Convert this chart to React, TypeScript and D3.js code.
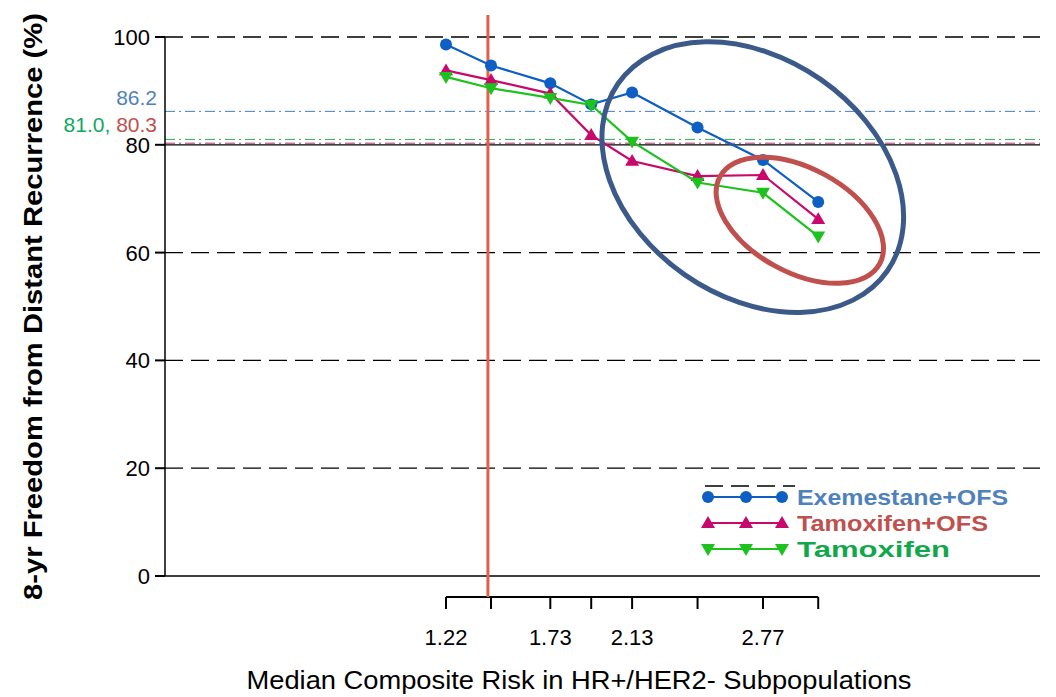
import * as d3 from "d3";

// median composite risk for each HR+/HER2- subpopulation
const risk = [1.22, 1.44, 1.73, 1.93, 2.13, 2.45, 2.77, 3.04];
const riskLabels = [1.22, 1.73, 2.13, 2.77];

// 8-yr freedom from distant recurrence (%)
const exemestaneOfs = [98.6, 94.7, 91.4, 87.5, 89.7, 83.2, 77.2, 69.4];
const tamoxifenOfs = [93.8, 92.0, 89.5, 81.8, 77.0, 74.2, 74.4, 66.2];
const tamoxifen = [92.6, 90.5, 88.7, 87.4, 80.6, 73.0, 71.1, 63.0];

const yTicks = [0, 20, 40, 60, 80, 100];
const refExe = 86.2;
const refTamOfs = 80.3;
const refTam = 81.0;
const cutoffRisk = 1.425;

const W = 1056;
const H = 697;

const BLUE = "#0d5fc4";
const MAGENTA = "#c8086a";
const GREEN = "#1ec21e";

const series = [
  { name: "Exemestane+OFS", values: exemestaneOfs, color: BLUE, marker: "circle", text: "#4f81bd", tl: 211 },
  { name: "Tamoxifen+OFS", values: tamoxifenOfs, color: MAGENTA, marker: "up", text: "#c0504d", tl: 191 },
  { name: "Tamoxifen", values: tamoxifen, color: GREEN, marker: "down", text: "#10a84a", tl: 153 },
];

const Marker = ({ kind, x, y, color }: { kind: string; x: number; y: number; color: string }) => {
  if (kind === "circle") return <circle cx={x} cy={y} r={6} fill={color} />;
  const s = 7;
  const pts =
    kind === "up"
      ? `${x},${y - s} ${x - s},${y + s * 0.7} ${x + s},${y + s * 0.7}`
      : `${x},${y + s} ${x - s},${y - s * 0.7} ${x + s},${y - s * 0.7}`;
  return <polygon points={pts} fill={color} />;
};

export default function App() {
  const x = d3.scaleLinear().domain([1.22, 2.77]).range([446, 763]);
  const y = d3.scaleLinear().domain([0, 100]).range([576, 37]);
  const left = 165;
  const right = 1040;
  const subAxisY = 597;

  const line = d3
    .line<number>()
    .x((_, i) => x(risk[i]))
    .y((d) => y(d));

  // annotation ellipses (center in data units, radii in px)
  const ellipses = [
    { cx: 2.72, cy: 74.0, rx: 164, ry: 119, rot: 34.8, color: "#3b5a8a" },
    { cx: 2.95, cy: 66.0, rx: 91, ry: 52, rot: 28.6, color: "#c0504d" },
  ];

  return (
    <svg
      width={W}
      height={H}
      style={{ position: "absolute", left: 0, top: 0, background: "#fff" }}
      fontFamily="'Liberation Sans', Arial, sans-serif"
    >
      {/* grid */}
      {yTicks.map((t) => (
        <line
          key={t}
          x1={left}
          x2={right}
          y1={y(t)}
          y2={y(t)}
          stroke="#000"
          strokeWidth={1.3}
          strokeDasharray={t === 0 || t === 80 ? undefined : "18,8"}
        />
      ))}

      {/* reference lines */}
      <line x1={left} x2={right} y1={y(refExe)} y2={y(refExe)} stroke="#3f7fc8" strokeWidth={1} strokeDasharray="10,4,2,4" />
      <line x1={left} x2={right} y1={y(refTam)} y2={y(refTam)} stroke="#2cb050" strokeWidth={1} strokeDasharray="10,4,2,4" />
      <line x1={left} x2={right} y1={y(refTamOfs)} y2={y(refTamOfs)} stroke="#a8306a" strokeWidth={1} strokeDasharray="10,4,2,4" />

      {/* y axis */}
      <line x1={left} x2={left} y1={y(100)} y2={y(0)} stroke="#000" strokeWidth={1.5} />
      {yTicks.map((t) => (
        <g key={t}>
          <line x1={left - 10} x2={left} y1={y(t)} y2={y(t)} stroke="#000" strokeWidth={2} />
          <text x={150} y={y(t) + 8} textAnchor="end" fontSize={22}>
            {t}
          </text>
        </g>
      ))}
      <text x={157} y={y(refExe) - 6} textAnchor="end" fontSize={21} fill="#4f81bd">
        {refExe.toFixed(1)}
      </text>
      <text x={157} y={y(refTam) - 7.5} textAnchor="end" fontSize={21}>
        <tspan fill="#10a860">{refTam.toFixed(1)}, </tspan>
        <tspan fill="#c0504d">{refTamOfs.toFixed(1)}</tspan>
      </text>
      <text
        transform={`translate(42,${(y(100) + y(0)) / 2}) rotate(-90)`}
        textAnchor="middle"
        fontSize={26}
        fontWeight="bold"
        textLength={587}
        lengthAdjust="spacingAndGlyphs"
      >
        8-yr Freedom from Distant Recurrence (%)
      </text>

      {/* risk axis */}
      <line x1={x(risk[0])} x2={x(risk[risk.length - 1])} y1={subAxisY} y2={subAxisY} stroke="#000" strokeWidth={2} />
      {risk.map((r) => (
        <line key={r} x1={x(r)} x2={x(r)} y1={subAxisY} y2={subAxisY + 12} stroke="#000" strokeWidth={2} />
      ))}
      {riskLabels.map((r) => (
        <text key={r} x={x(r)} y={645} textAnchor="middle" fontSize={22}>
          {r.toFixed(2)}
        </text>
      ))}
      <text
        x={579}
        y={689}
        textAnchor="middle"
        fontSize={25}
        textLength={665}
        lengthAdjust="spacingAndGlyphs"
      >
        Median Composite Risk in HR+/HER2- Subpopulations
      </text>

      {/* cutoff */}
      <line x1={x(cutoffRisk)} x2={x(cutoffRisk)} y1={15} y2={subAxisY} stroke="#e0604a" strokeWidth={3} />

      {/* series */}
      {series.map((s) => (
        <g key={s.name}>
          <path d={line(s.values) ?? ""} fill="none" stroke={s.color} strokeWidth={2.2} />
          {s.values.map((v, i) => (
            <Marker key={i} kind={s.marker} x={x(risk[i])} y={y(v)} color={s.color} />
          ))}
        </g>
      ))}

      {/* ellipses */}
      {ellipses.map((e, i) => (
        <ellipse
          key={i}
          cx={0}
          cy={0}
          rx={e.rx}
          ry={e.ry}
          transform={`translate(${x(e.cx)},${y(e.cy)}) rotate(${e.rot})`}
          fill="none"
          stroke={e.color}
          strokeWidth={5}
        />
      ))}

      {/* legend */}
      <line x1={705} x2={795} y1={486} y2={486} stroke="#000" strokeWidth={1.3} strokeDasharray="18,8" />
      {series.map((s, i) => {
        const cy = 497 + i * 26;
        return (
          <g key={s.name}>
            <line x1={708} x2={782} y1={cy} y2={cy} stroke={s.color} strokeWidth={2.2} />
            {[708, 746, 782].map((mx) => (
              <Marker key={mx} kind={s.marker} x={mx} y={cy} color={s.color} />
            ))}
            <text
              x={797}
              y={cy + 8}
              fontSize={22}
              fontWeight="bold"
              fill={s.text}
              textLength={s.tl}
              lengthAdjust="spacingAndGlyphs"
            >
              {s.name}
            </text>
          </g>
        );
      })}
    </svg>
  );
}
